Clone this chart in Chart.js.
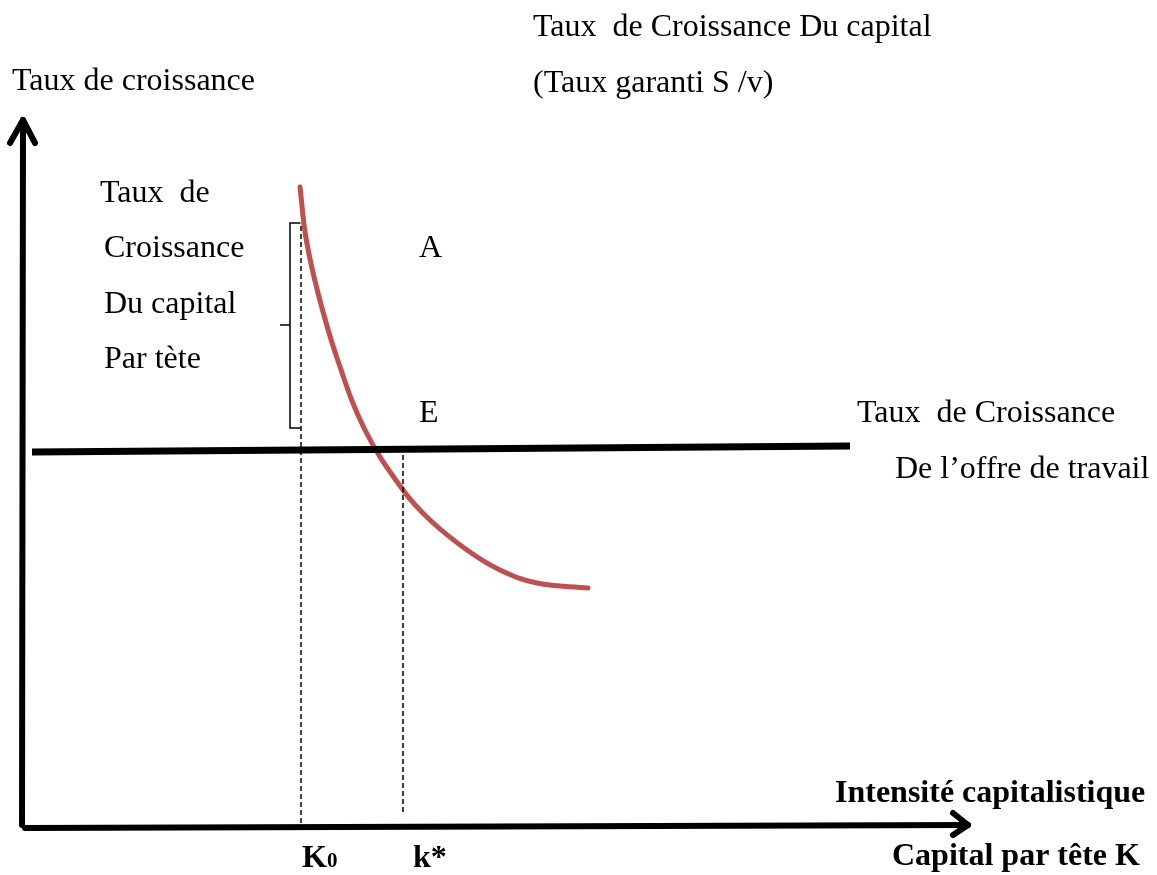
<!DOCTYPE html>
<html lang="fr">
  <head>
    <meta charset="UTF-8" />
    <title>Taux de croissance et capital par tête</title>
    <script src="https://cdn.jsdelivr.net/npm/chart.js"></script>
    <style>
      body { margin: 0; background: #fff; }
    </style>
  </head>
  <body>
    <canvas id="growthChart" width="1157" height="875"></canvas>
    <script>
      // courbe du taux de croissance du capital par tête (K, taux)
      const curveK = [2.78, 2.84, 2.96, 3.15, 3.43, 3.81, 4.08, 4.45, 4.78, 5.15, 5.66];
      const curveRate = [6.41, 5.90, 5.35, 4.70, 3.98, 3.38, 3.08, 2.78, 2.58, 2.45, 2.40];

      // taux de croissance de l'offre de travail
      const laborK = [0.10, 8.28];
      const laborRate = [3.76, 3.82];

      // valeurs repères
      const k0 = 2.79;
      const kStar = 3.81;
      const k0Top = 6.05;
      const kStarTop = 3.78;

      // accolade à gauche de K0
      const braceK = [2.78, 2.68, 2.68, 2.58, 2.68, 2.68, 2.78];
      const braceRate = [6.05, 6.05, 5.03, 5.03, 5.03, 4.00, 4.00];

      // axes
      const yAxisK = [0, 0.01];
      const yAxisRate = [0.03, 7.08];
      const yArrowK = [-0.12, 0.01, 0.13];
      const yArrowRate = [6.85, 7.08, 6.85];
      const xAxisK = [0.03, 9.46];
      const xAxisRate = [0, 0.03];
      const xArrowK = [9.31, 9.46, 9.31];
      const xArrowRate = [0.15, 0.03, -0.07];

      const pts = (xs, ys) => xs.map((x, i) => ({ x: x, y: ys[i] }));

      function line(data, color, width, extra) {
        return Object.assign({
          data: data,
          showLine: true,
          borderColor: color,
          borderWidth: width,
          pointRadius: 0,
          fill: false,
          clip: false,
          borderJoinStyle: "round",
          borderCapStyle: "round",
        }, extra || {});
      }

      const labels = [
        { t: "Taux  de Croissance Du capital", x: 533, y: 36 },
        { t: "(Taux garanti S /v)", x: 533, y: 92 },
        { t: "Taux de croissance", x: 12, y: 90 },
        { t: "Taux  de", x: 100, y: 202 },
        { t: "Croissance", x: 104, y: 257 },
        { t: "Du capital", x: 104, y: 313 },
        { t: "Par tète", x: 104, y: 368 },
        { t: "A", x: 419, y: 257 },
        { t: "E", x: 419, y: 422 },
        { t: "Taux  de Croissance", x: 857, y: 422 },
        { t: "De l\u2019offre de travail", x: 895, y: 478 },
        { t: "Intensité capitalistique", x: 835, y: 802, bold: true },
        { t: "Capital par tête K", x: 892, y: 865, bold: true },
        { t: "k*", x: 413, y: 867, bold: true },
      ];

      const textPlugin = {
        id: "texts",
        afterDraw(chart) {
          const ctx = chart.ctx;
          ctx.save();
          ctx.fillStyle = "#000";
          ctx.textBaseline = "alphabetic";
          ctx.textAlign = "left";
          labels.forEach((l) => {
            ctx.font = (l.bold ? "bold " : "") + "32px 'Liberation Serif', 'Times New Roman', serif";
            ctx.fillText(l.t, l.x, l.y);
          });
          // K0 avec indice
          ctx.font = "bold 32px 'Liberation Serif', serif";
          ctx.fillText("K", 302, 867);
          const w = ctx.measureText("K").width;
          ctx.font = "bold 21px 'Liberation Serif', serif";
          ctx.fillText("0", 302 + w, 867);
          ctx.restore();
        },
      };

      new Chart(document.getElementById("growthChart").getContext("2d"), {
        type: "scatter",
        data: {
          datasets: [
            line(pts(yAxisK, yAxisRate), "#000", 6),
            line(pts(yArrowK, yArrowRate), "#000", 6),
            line(pts(xAxisK, xAxisRate), "#000", 6),
            line(pts(xArrowK, xArrowRate), "#000", 6),
            line(pts([k0, k0], [0.05, k0Top]), "#000", 1.5, { borderDash: [5, 3], borderCapStyle: "butt" }),
            line(pts([kStar, kStar], [0.16, kStarTop]), "#000", 1.5, { borderDash: [5, 3], borderCapStyle: "butt" }),
            line(pts(braceK, braceRate), "#000", 1.5, { borderJoinStyle: "miter" }),
            line(pts(laborK, laborRate), "#000", 7, { borderCapStyle: "butt" }),
            line(pts(curveK, curveRate), "#c0504d", 5, { tension: 0.4 }),
          ],
        },
        options: {
          responsive: false,
          animation: false,
          layout: { padding: 0 },
          scales: {
            x: { type: "linear", min: -0.22, max: 11.35, display: false },
            y: { type: "linear", min: -0.47, max: 8.28, display: false },
          },
          plugins: {
            legend: { display: false },
            tooltip: { enabled: false },
          },
        },
        plugins: [textPlugin],
      });
    </script>
  </body>
</html>
